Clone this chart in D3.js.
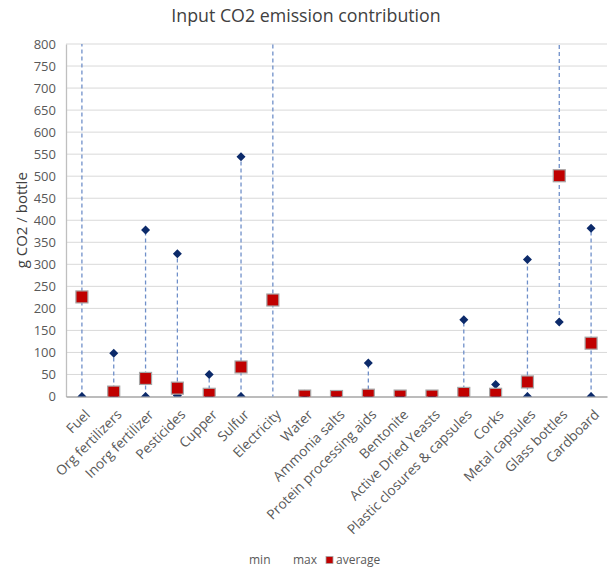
<!DOCTYPE html>
<html>
<head>
<meta charset="utf-8">
<script src="https://cdn.jsdelivr.net/npm/d3@7"></script>
<style>
    body { margin: 0; background: #fff; }
    text { font-family: "Open Sans", sans-serif; }
</style>
</head>
<body>
<script>
// chart data
var categories = ["Fuel", "Org fertilizers", "Inorg fertilizer", "Pesticides", "Cupper", "Sulfur",
    "Electricity", "Water", "Ammonia salts", "Protein processing aids", "Bentonite",
    "Active Dried Yeasts", "Plastic closures & capsules", "Corks", "Metal capsules",
    "Glass bottles", "Cardboard"];
var minValues = [0, 0, 0, 2, 0, 0, -100, 0, 0, 0, 0, 0, 0, 0, 0, 169, 0];
var maxValues = [1200, 98, 378, 324, 50, 544, 1200, 5, 0, 76, 0, 2, 174, 27, 311, 1200, 382];
var avgValues = [226, 10, 41, 19, 5, 67, 219, 1, 0, 3, 1, 1, 7, 5, 33, 501, 121];
var yTicks = d3.range(0, 801, 50);
var legendItems = ["min", "max", "average"];

var width = 609,
    height = 568;
var margin = {top: 44, right: 2, bottom: 171.5, left: 66};
var plotW = width - margin.left - margin.right,
    plotH = height - margin.top - margin.bottom;

var svg = d3.select('body')
    .append('svg')
    .attr('width', width)
    .attr('height', height);

svg.append("text")
    .attr("x", 306)
    .attr("y", 22)
    .attr("text-anchor", "middle")
    .style("font-size", "17.8px")
    .style("fill", "#404040")
    .text("Input CO2 emission contribution");

var x = d3.scaleBand().domain(categories).range([0, plotW]).padding(0);
var y = d3.scaleLinear().domain([0, 800]).range([plotH, 0]);

var g = svg.append("g")
    .attr("transform", "translate(" + margin.left + "," + margin.top + ")");

svg.append("defs").append("clipPath")
    .attr("id", "plotclip")
    .append("rect")
    .attr("x", 0).attr("y", 0)
    .attr("width", plotW).attr("height", plotH);

// gridlines
g.append("g")
    .selectAll("line")
    .data(yTicks.slice(1))
    .enter().append("line")
    .attr("x1", 0).attr("x2", plotW)
    .attr("y1", function (d) { return y(d); })
    .attr("y2", function (d) { return y(d); })
    .attr("stroke", "#d9d9d9")
    .attr("stroke-width", 1);

// y axis
var yAxis = g.append("g")
    .call(d3.axisLeft(y).tickValues(yTicks).tickSize(0).tickPadding(10));
yAxis.select(".domain").attr("stroke", "#bfbfbf").attr("stroke-width", 1.3);
yAxis.selectAll("text").style("font-size", "13px").style("fill", "#595959")
    .style("font-family", "'Open Sans', sans-serif");

svg.append("text")
    .attr("transform", "translate(27," + (margin.top + plotH / 2) + ") rotate(-90)")
    .attr("text-anchor", "middle")
    .style("font-size", "15px")
    .style("fill", "#404040")
    .text("g CO2 / bottle");

// x axis
var xAxis = g.append("g")
    .attr("transform", "translate(0," + plotH + ")")
    .call(d3.axisBottom(x).tickSize(0).tickPadding(0));
xAxis.select(".domain").attr("stroke", "#a6a6a6").attr("stroke-width", 1.3);
xAxis.selectAll("text")
    .attr("text-anchor", "end")
    .attr("dy", null)
    .attr("transform", "translate(9,19) rotate(-45)")
    .style("font-size", "13.7px")
    .style("fill", "#595959")
    .style("font-family", "'Open Sans', sans-serif");

var marks = g.append("g").attr("clip-path", "url(#plotclip)");

var rows = categories.map(function (c, i) {
    return {cat: c, min: minValues[i], max: maxValues[i], avg: avgValues[i]};
});
var cx = function (d) { return x(d.cat) + x.bandwidth() / 2; };
var diamond = "M0,-4.5L4.5,0L0,4.5L-4.5,0Z";

// high-low lines
marks.selectAll(".hl")
    .data(rows)
    .enter().append("line")
    .attr("class", "hl")
    .attr("x1", cx).attr("x2", cx)
    .attr("y1", function (d) { return y(d.min); })
    .attr("y2", function (d) { return y(d.max); })
    .attr("stroke", "#6f8fc9")
    .attr("stroke-width", 1.3)
    .attr("stroke-dasharray", "4,3");

// min markers
marks.selectAll(".mn")
    .data(rows)
    .enter().append("path")
    .attr("class", "mn")
    .attr("d", diamond)
    .attr("transform", function (d) { return "translate(" + cx(d) + "," + y(d.min) + ")"; })
    .attr("fill", "#0c2a6a");

// max markers
marks.selectAll(".mx")
    .data(rows)
    .enter().append("path")
    .attr("class", "mx")
    .attr("d", diamond)
    .attr("transform", function (d) { return "translate(" + cx(d) + "," + y(d.max) + ")"; })
    .attr("fill", "#0c2a6a");

// average markers
marks.selectAll(".av")
    .data(rows)
    .enter().append("rect")
    .attr("class", "av")
    .attr("x", function (d) { return cx(d) - 6; })
    .attr("y", function (d) { return y(d.avg) - 6; })
    .attr("width", 12).attr("height", 12)
    .attr("fill", "#c00000")
    .attr("stroke", "#a6a6a6")
    .attr("stroke-width", 1.2);

// legend
var legend = svg.append("g").attr("transform", "translate(0,561)");
var legX = [249, 293, 336];
legend.selectAll("text")
    .data(legendItems)
    .enter().append("text")
    .attr("x", function (d, i) { return legX[i]; })
    .attr("y", 3)
    .style("font-size", "12px")
    .style("fill", "#595959")
    .text(function (d) { return d; });
legend.append("rect")
    .attr("x", 326).attr("y", -4.5)
    .attr("width", 7).attr("height", 7)
    .attr("fill", "#c00000")
    .attr("stroke", "#a6a6a6")
    .attr("stroke-width", 0.8);
</script>
</body>
</html>
